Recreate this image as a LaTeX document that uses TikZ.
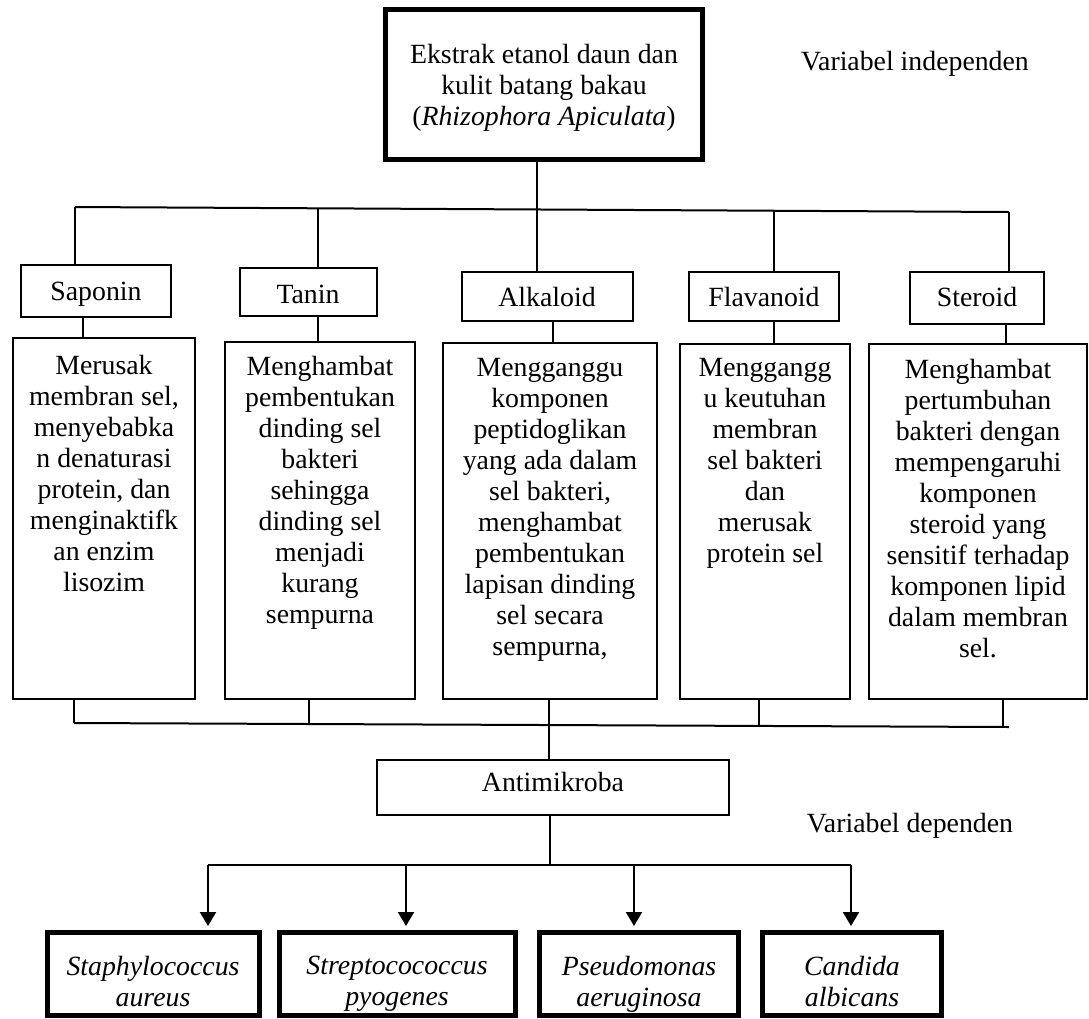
\documentclass[tikz,border=0pt]{standalone}
\usepackage{fontspec}
\setmainfont{Liberation Serif}
\usetikzlibrary{arrows.meta,fit}
\begin{document}
\begin{tikzpicture}[x=0.5pt,y=-0.5pt,
  every node/.style={font=\fontsize{13.9}{15.5}\selectfont},
  thinbox/.style={draw, line width=1pt, inner sep=0pt},
  thickbox/.style={draw, line width=2.6pt, inner sep=0pt},
  txt/.style={align=center, inner sep=0pt},
  lbl/.style={inner sep=0pt, anchor=base},
  conn/.style={line width=1pt},
  arr/.style={line width=1pt, -{Triangle[width=8pt,length=7pt]}, shorten >=2pt}]
\useasboundingbox (0,0) rectangle (1089,1019);

% top box
\node[thickbox, line width=2.5pt, fit={(385.5,9.5) (702.5,159.5)}] (top) {};
\node[txt] (toptxt) at (544,88) {Ekstrak etanol daun dan\\kulit batang bakau\\(\textit{Rhizophora Apiculata})};
\node[lbl] (vi) at (915,70) {Variabel independen};

% small boxes
\node[thinbox, fit={(21,265) (171,317)}] (sap) {};
\node[lbl] (saptxt) at (96,300) {Saponin};
\node[thinbox, fit={(240,268) (377,316)}] (tan) {};
\node[lbl] (tantxt) at (308,303) {Tanin};
\node[thinbox, fit={(462,272) (633,321)}] (alk) {};
\node[lbl] (alktxt) at (547,306) {Alkaloid};
\node[thinbox, fit={(689,272) (839,321)}] (fla) {};
\node[lbl] (flatxt) at (764,306) {Flavanoid};
\node[thinbox, fit={(910,272) (1044,324)}] (ste) {};
\node[lbl] (stetxt) at (977,306) {Steroid};

% big boxes
\node[thinbox, fit={(13,338) (195,699)}] (bsap) {};
\node[txt, anchor=north] (bsaptxt) at (104,355) {Merusak\\membran sel,\\menyebabka\\n denaturasi\\protein, dan\\menginaktifk\\an enzim\\lisozim};
\node[thinbox, fit={(225,342) (415,699)}] (btan) {};
\node[txt, anchor=north] (btantxt) at (320,356) {Menghambat\\pembentukan\\dinding sel\\bakteri\\sehingga\\dinding sel\\menjadi\\kurang\\sempurna};
\node[thinbox, fit={(443,343) (657,699)}] (balk) {};
\node[txt, anchor=north] (balktxt) at (550,358) {Mengganggu\\komponen\\peptidoglikan\\yang ada dalam\\sel bakteri,\\menghambat\\pembentukan\\lapisan dinding\\sel secara\\sempurna,};
\node[thinbox, fit={(680,344) (850,699)}] (bfla) {};
\node[txt, anchor=north] (bflatxt) at (765,358) {Menggangg\\u keutuhan\\membran\\sel bakteri\\dan\\merusak\\protein sel};
\node[thinbox, fit={(869,344) (1087,699)}] (bste) {};
\node[txt, anchor=north] (bstetxt) at (978,359) {Menghambat\\pertumbuhan\\bakteri dengan\\mempengaruhi\\komponen\\steroid yang\\sensitif terhadap\\komponen lipid\\dalam membran\\sel.};

% antimikroba
\node[thinbox, fit={(377,760) (729,815)}] (anti) {};
\node[lbl] (antitxt) at (553,791) {Antimikroba};
\node[lbl] (vd) at (910,832) {Variabel dependen};

% bottom boxes
\node[thickbox, fit={(47.6,932.6) (259.4,1015.4)}] (staph) {};
\node[txt, anchor=north] (staphtxt) at (153,956) {\textit{Staphylococcus}\\\textit{aureus}};
\node[thickbox, fit={(279.6,932.6) (515.4,1015.4)}] (strep) {};
\node[txt, anchor=north] (streptxt) at (397,956) {\textit{Streptocococcus}\\\textit{pyogenes}};
\node[thickbox, fit={(539.6,932.6) (738.4,1015.4)}] (pseu) {};
\node[txt, anchor=north] (pseutxt) at (639,956) {\textit{Pseudomonas}\\\textit{aeruginosa}};
\node[thickbox, fit={(762.6,932.6) (941.4,1015.4)}] (cand) {};
\node[txt, anchor=north] (candtxt) at (852,956) {\textit{Candida}\\\textit{albicans}};

% top connectors
\coordinate (hL) at (75,207);
\coordinate (hR) at (1009,212);
\coordinate (h2) at (318,208.3);
\coordinate (x3) at (537,0);
\coordinate (h4) at (774,210.7);
\draw[conn] (hL) -- (hR);
\draw[conn] (hL) -- (hL |- sap.north);
\draw[conn] (h2) -- (h2 |- tan.north);
\draw[conn] (top.south -| x3) -- (alk.north -| x3);
\draw[conn] (h4) -- (h4 |- fla.north);
\draw[conn] (hR) -- (hR |- ste.north);

% small to big
\coordinate (d1) at (83,0);
\coordinate (d2) at (318,0);
\coordinate (d3) at (553,0);
\coordinate (d4) at (774,0);
\coordinate (d5) at (1006,0);
\draw[conn] (sap.south -| d1) -- (bsap.north -| d1);
\draw[conn] (tan.south -| d2) -- (btan.north -| d2);
\draw[conn] (alk.south -| d3) -- (balk.north -| d3);
\draw[conn] (fla.south -| d4) -- (bfla.north -| d4);
\draw[conn] (ste.south -| d5) -- (bste.north -| d5);

% big to bottom line
\coordinate (bL) at (74,723);
\coordinate (bR) at (1009,727);
\coordinate (b2) at (309,724);
\coordinate (b3) at (549,0);
\coordinate (b4) at (759,726);
\coordinate (b5) at (1003,727);
\draw[conn] (bL) -- (bR);
\draw[conn] (bsap.south -| bL) -- (bL);
\draw[conn] (btan.south -| b2) -- (b2);
\draw[conn] (balk.south -| b3) -- (anti.north -| b3);
\draw[conn] (bfla.south -| b4) -- (b4);
\draw[conn] (bste.south -| b5) -- (b5);

% antimikroba to organisms
\coordinate (a0) at (550,865);
\coordinate (aL) at (208,865);
\coordinate (aR) at (851,865);
\coordinate (a2) at (406,865);
\coordinate (a3) at (634,865);
\draw[conn] (anti.south -| a0) -- (a0);
\draw[conn] (aL) -- (aR);
\draw[arr] (aL) -- (staph.north -| aL);
\draw[arr] (a2) -- (strep.north -| a2);
\draw[arr] (a3) -- (pseu.north -| a3);
\draw[arr] (aR) -- (cand.north -| aR);
\end{tikzpicture}
\end{document}
